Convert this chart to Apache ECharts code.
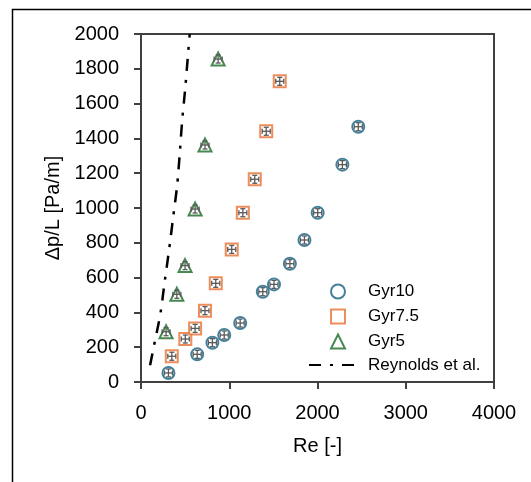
<!DOCTYPE html>
<html>
<head>
<meta charset="utf-8">
<script src="https://cdn.jsdelivr.net/npm/echarts@6/dist/echarts.min.js"></script>
<style>
html,body{margin:0;padding:0;background:#fff;}
#chart{width:531px;height:482px;}
</style>
</head>
<body>
<div id="chart"></div>
<script>
var gyr10Re = [311, 637, 809, 943, 1124, 1380, 1507, 1687, 1852, 2002, 2282, 2462];
var gyr10Dp = [52, 159, 226, 270, 339, 519, 561, 680, 816, 973, 1249, 1467];
var gyr75Re = [349, 502, 613, 725, 847, 1028, 1154, 1289, 1419, 1572];
var gyr75Dp = [148, 247, 308, 410, 567, 762, 973, 1165, 1441, 1728];
var gyr5Re = [284, 406, 499, 613, 725, 874];
var gyr5Dp = [289, 504, 669, 994, 1362, 1856];
var reyRe = [103, 149, 220, 269, 318, 364, 409, 439, 466, 500, 530, 552];
var reyDp = [96, 213, 393, 579, 759, 945, 1127, 1311, 1499, 1681, 1865, 2000];

var xTicks = [0, 1000, 2000, 3000, 4000];
var yTicks = [0, 200, 400, 600, 800, 1000, 1200, 1400, 1600, 1800, 2000];
var seriesNames = ['Gyr10', 'Gyr7.5', 'Gyr5', 'Reynolds et al.'];

function pairs(a, b) { return a.map(function (v, i) { return [v, b[i]]; }); }

var allPoints = pairs(gyr10Re, gyr10Dp).concat(pairs(gyr75Re, gyr75Dp)).concat(pairs(gyr5Re, gyr5Dp));

var FONT = '"Liberation Sans", Arial, sans-serif';
var AX = '#404040';

function errGlyph(params, api) {
  var p = api.coord([api.value(0), api.value(1)]);
  var x = p[0], y = p[1];
  var w = 4, h = 4, c = 2.5;
  var st = { stroke: '#5a5a5a', lineWidth: 1.3 };
  function ln(x1, y1, x2, y2) { return { type: 'line', shape: { x1: x1, y1: y1, x2: x2, y2: y2 }, style: st }; }
  return {
    type: 'group',
    children: [
      ln(x - w, y, x + w, y), ln(x - w, y - c, x - w, y + c), ln(x + w, y - c, x + w, y + c),
      ln(x, y - h, x, y + h), ln(x - c, y - h, x + c, y - h), ln(x - c, y + h, x + c, y + h)
    ]
  };
}

var chart = echarts.init(document.getElementById('chart'), null, { renderer: 'canvas' });
chart.setOption({
  animation: false,
  backgroundColor: '#fff',
  textStyle: { fontFamily: FONT },
  graphic: [{
    type: 'rect', shape: { x: 12.5, y: 9.5, width: 700, height: 700 },
    style: { fill: 'none', stroke: '#000', lineWidth: 1.5 }, z: -10, silent: true
  }],
  grid: {
    left: 141, right: 37, top: 34, bottom: 100,
    show: true, borderColor: AX, borderWidth: 2, backgroundColor: 'transparent'
  },
  legend: [{
    data: seriesNames.slice(0, 3),
    orient: 'vertical',
    left: 325, top: 278,
    itemWidth: 14, itemHeight: 14, itemGap: 8,
    textStyle: { fontFamily: FONT, fontSize: 17, color: '#000', padding: [0, 0, 0, 18] }
  }, {
    data: seriesNames.slice(3),
    orient: 'vertical',
    left: 303, top: 351.5,
    itemWidth: 54, itemHeight: 14,
    itemStyle: { opacity: 0 },
    textStyle: { fontFamily: FONT, fontSize: 17, color: '#000', padding: [0, 0, 0, 0] }
  }],
  xAxis: {
    type: 'value', min: 0, max: 4000, interval: 1000,
    name: 'Re [-]', nameLocation: 'middle', nameGap: 54,
    nameTextStyle: { fontFamily: FONT, fontSize: 20, color: '#000' },
    axisLine: { show: true, lineStyle: { color: AX, width: 2 } },
    axisTick: { show: true, inside: false, length: 7, lineStyle: { color: AX, width: 2 } },
    axisLabel: { fontFamily: FONT, fontSize: 20, color: '#000', margin: 21,
      formatter: function (v) { return xTicks.indexOf(v) >= 0 ? String(v) : ''; } },
    splitLine: { show: false }
  },
  yAxis: {
    type: 'value', min: 0, max: 2000, interval: 200,
    name: 'Δp/L [Pa/m]', nameLocation: 'middle', nameGap: 78, nameRotate: 90,
    nameTextStyle: { fontFamily: FONT, fontSize: 20, color: '#000' },
    axisLine: { show: true, lineStyle: { color: AX, width: 2 } },
    axisTick: { show: true, inside: false, length: 7, lineStyle: { color: AX, width: 2 } },
    axisLabel: { fontFamily: FONT, fontSize: 20, color: '#000', margin: 22,
      formatter: function (v) { return yTicks.indexOf(v) >= 0 ? String(v) : ''; } },
    splitLine: { show: false }
  },
  series: [
    {
      name: seriesNames[0], type: 'scatter', data: pairs(gyr10Re, gyr10Dp),
      symbol: 'circle', symbolSize: 12,
      itemStyle: { color: '#fff', borderColor: '#156082', borderWidth: 2 }, z: 3
    },
    {
      name: seriesNames[1], type: 'scatter', data: pairs(gyr75Re, gyr75Dp),
      symbol: 'rect', symbolSize: 12,
      itemStyle: { color: '#fff', borderColor: '#E97132', borderWidth: 2 }, z: 3
    },
    {
      name: seriesNames[2], type: 'scatter', data: pairs(gyr5Re, gyr5Dp),
      symbol: 'triangle', symbolSize: 13,
      itemStyle: { color: '#fff', borderColor: '#196B24', borderWidth: 2 }, z: 3
    },
    {
      name: seriesNames[3], type: 'line', data: pairs(reyRe, reyDp),
      symbol: 'none', showSymbol: false, smooth: 0.3,
      lineStyle: { color: '#000', width: 2.5, type: [12, 9, 3, 9] },
      itemStyle: { color: '#000' }, z: 2
    },
    {
      type: 'custom', data: allPoints, renderItem: errGlyph, z: 4, silent: true
    }
  ]
});
</script>
</body>
</html>
